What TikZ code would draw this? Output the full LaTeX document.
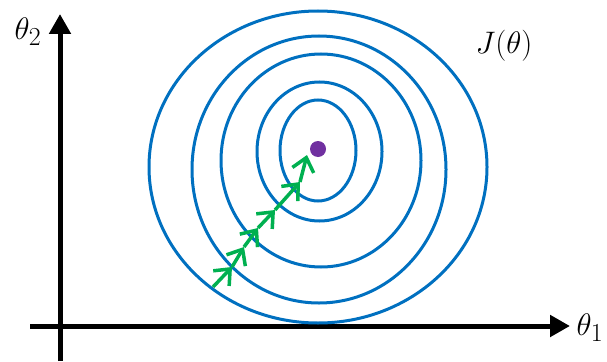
\documentclass[tikz,border=0pt]{standalone}
\usetikzlibrary{arrows.meta}
\definecolor{contourblue}{HTML}{0070C0}
\definecolor{stepgreen}{HTML}{00B050}
\definecolor{minpurple}{HTML}{7030A0}
\begin{document}
\begin{tikzpicture}[x=1pt,y=-1pt,
  axis/.style={line width=5pt,-{Triangle[length=20pt,width=21pt]}},
  contour/.style={draw=contourblue,line width=3pt},
  gdstep/.style={stepgreen,line width=3.5pt,-{Straight Barb[length=13pt,width=22pt]}},
  lbl/.style={font=\Huge,scale=1.25,inner sep=0pt}]
\useasboundingbox (0,0) rectangle (607,361);
% axes
\coordinate (origin) at (60,326);
\coordinate (ybottom) at (60,361);
\coordinate (ytop) at (60,14);
\coordinate (xleft) at (30,326);
\coordinate (xright) at (570,326);
\draw[axis] (ybottom) -- (ytop);
\draw[axis] (xleft) -- (xright);
\node[lbl] (t2) at (28,32) {$\theta_2$};
\node[lbl] (t1) at (590,328) {$\theta_1$};
% contours of J
\draw[contour] (318,167) ellipse [x radius=169pt,y radius=156pt];
\draw[contour] (319,169.5) ellipse [x radius=127pt,y radius=133.5pt];
\draw[contour] (321,160.5) ellipse [x radius=100pt,y radius=106.5pt];
\draw[contour] (319.5,151.5) ellipse [x radius=62.5pt,y radius=69.5pt];
\draw[contour] (318,150.5) ellipse [x radius=38pt,y radius=50.5pt];
\node[lbl] (J) at (504,46) {$J(\theta)$};
% minimum
\node[circle,fill=minpurple,minimum size=16pt,inner sep=0pt] (min) at (318,149) {};
% gradient descent steps
\coordinate (s0) at (213,287);
\coordinate (s1) at (232,267);
\coordinate (s2) at (244,247);
\coordinate (s3) at (258,228);
\coordinate (s4) at (275,210);
\coordinate (s5) at (300,182);
\coordinate (s6) at (307,155);
\foreach \a/\b in {s0/s1,s1/s2,s2/s3,s3/s4,s4/s5,s5/s6}
  \draw[gdstep] (\a) -- (\b);
\end{tikzpicture}
\end{document}
